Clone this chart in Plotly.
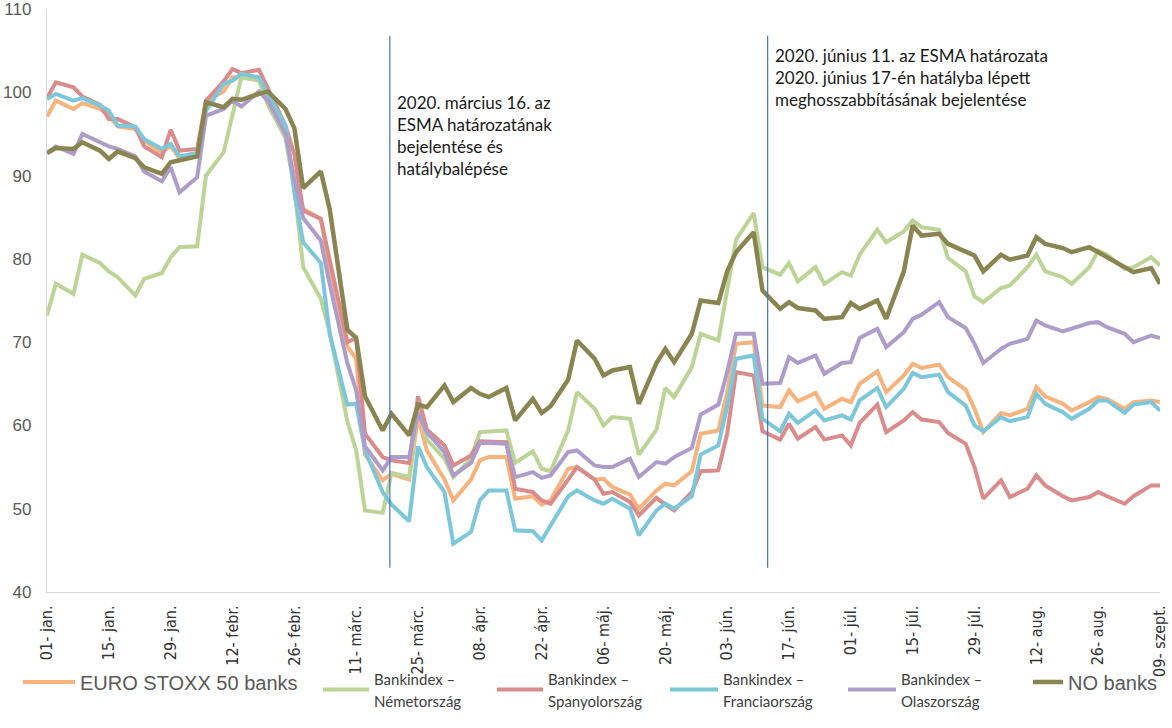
import pandas as pd
import plotly.graph_objects as go

# Trading days (every second business day), 2020-01-01 .. 2020-09-09
dates = pd.bdate_range("2020-01-01", "2020-09-09")[::2]

euro_stoxx = [97.1, 99.0, 98.0, 98.7, 98.0, 97.2, 95.9, 95.6, 94.2, 92.7,
              93.6, 92.0, 92.3, 99.0, 100.1, 101.8, 101.8, 101.4, 99.0, 95.0,
              89.5, 86.0, 84.8, 79.0, 69.5, 68.0, 56.5, 53.4, 54.2, 53.5,
              61.0, 57.0, 53.5, 51.0, 53.5, 55.8, 56.2, 56.2, 51.2, 51.5,
              50.5, 51.0, 54.8, 55.0, 53.5, 53.6, 52.6, 51.7, 50.0, 52.2,
              53.0, 52.8, 54.5, 59.0, 59.4, 64.0, 69.8, 70.0, 62.4, 62.2,
              64.2, 62.9, 63.9, 62.0, 63.2, 62.8, 65.0, 66.5, 64.0, 66.0,
              67.4, 66.9, 67.3, 65.8, 64.3, 62.0, 59.2, 61.5, 61.2, 62.0,
              64.6, 63.5, 62.6, 61.8, 62.8, 63.4, 63.2, 62.0, 62.8, 63.0,
              62.8]

germany = [73.2, 77.0, 75.8, 80.5, 79.5, 78.5, 77.8, 75.6, 77.6, 78.3,
           80.2, 81.4, 81.5, 90.0, 92.8, 97.5, 101.8, 101.5, 98.5, 94.5,
           88.5, 79.0, 75.2, 71.2, 60.5, 57.0, 49.8, 49.5, 54.3, 53.8,
           62.5, 58.3, 56.0, 53.8, 56.0, 59.2, 59.3, 59.4, 55.5, 56.9,
           54.8, 54.5, 59.4, 64.0, 62.0, 60.0, 61.0, 60.8, 56.5, 59.5,
           64.5, 63.4, 67.0, 71.0, 70.2, 76.0, 82.3, 85.5, 79.0, 78.1,
           79.5, 77.3, 79.0, 77.0, 78.4, 78.0, 80.5, 83.5, 82.0, 83.3,
           84.6, 83.8, 83.5, 80.1, 78.5, 75.5, 74.8, 76.5, 76.8, 79.0,
           80.5, 78.5, 77.8, 77.0, 79.0, 81.0, 80.5, 78.8, 79.0, 80.2,
           79.2]

spain = [99.3, 101.2, 100.6, 99.5, 98.5, 96.8, 96.8, 95.8, 93.5, 92.2,
         95.5, 93.0, 93.2, 99.0, 101.3, 102.8, 102.3, 102.7, 100.5, 96.0,
         92.5, 85.8, 84.8, 80.0, 70.0, 70.5, 59.0, 56.2, 55.8, 55.5,
         63.5, 59.5, 57.6, 55.2, 56.4, 58.1, 58.1, 58.0, 52.4, 52.0,
         51.0, 50.6, 53.5, 55.0, 53.5, 51.8, 52.0, 50.8, 49.2, 51.3,
         50.5, 49.8, 52.0, 54.5, 54.6, 59.0, 66.4, 66.0, 59.3, 58.3,
         60.2, 58.4, 59.8, 58.3, 58.8, 57.6, 60.3, 62.5, 59.2, 60.6,
         61.6, 60.7, 60.4, 59.1, 57.8, 55.0, 51.2, 53.4, 51.4, 52.4,
         54.0, 52.8, 51.5, 51.0, 51.4, 52.0, 51.5, 50.6, 51.5, 52.8,
         52.8]

france = [99.2, 99.8, 99.0, 99.3, 98.4, 97.8, 96.0, 95.9, 94.4, 93.2,
          93.8, 92.3, 92.7, 97.8, 101.0, 101.4, 102.2, 101.8, 99.8, 96.0,
          88.0, 82.0, 79.5, 71.0, 62.5, 62.6, 57.0, 52.0, 50.5, 48.5,
          57.5, 55.0, 52.0, 45.8, 47.2, 51.0, 52.2, 52.2, 47.4, 47.3,
          46.2, 48.0, 51.5, 52.2, 51.0, 50.6, 51.2, 50.0, 46.8, 49.8,
          50.6, 50.0, 51.5, 56.5, 57.6, 62.3, 68.0, 68.4, 60.8, 59.3,
          61.4, 60.3, 61.8, 60.6, 61.2, 60.7, 63.0, 64.5, 62.2, 64.4,
          66.3, 65.8, 66.1, 64.0, 62.4, 60.0, 59.3, 61.0, 60.5, 61.0,
          63.8, 62.6, 61.6, 60.8, 62.0, 63.0, 63.0, 61.5, 62.5, 62.8,
          61.8]

italy = [92.7, 93.5, 92.6, 95.0, 94.0, 93.5, 93.2, 92.3, 90.5, 89.3,
         91.0, 88.0, 89.8, 97.2, 98.0, 99.0, 98.3, 100.1, 99.0, 95.0,
         89.5, 84.9, 82.2, 77.0, 67.5, 64.2, 57.5, 54.6, 56.2, 56.2,
         61.5, 59.2, 56.8, 54.0, 55.5, 57.9, 57.9, 57.8, 53.8, 54.4,
         53.7, 54.0, 56.8, 57.0, 55.2, 55.0, 55.0, 56.0, 53.8, 55.6,
         55.4, 56.2, 57.3, 61.3, 62.5, 66.4, 71.0, 71.0, 65.0, 65.1,
         68.2, 67.5, 68.4, 66.2, 67.5, 67.6, 70.5, 71.6, 69.4, 71.2,
         72.8, 73.3, 74.8, 73.0, 71.7, 69.8, 67.5, 69.2, 69.8, 70.4,
         72.6, 72.0, 71.3, 71.6, 72.3, 72.4, 71.8, 71.0, 70.0, 70.8,
         70.5]

no_banks = [92.7, 93.3, 93.2, 94.0, 93.0, 92.0, 92.9, 92.1, 91.0, 90.2,
            91.6, 91.8, 92.3, 98.8, 98.2, 99.2, 99.1, 99.8, 100.1, 98.0,
            95.7, 88.5, 90.5, 86.0, 71.5, 70.5, 63.5, 59.4, 61.4, 58.8,
            62.5, 62.2, 64.8, 62.8, 64.5, 63.8, 63.4, 64.5, 60.6, 63.2,
            61.5, 62.3, 65.5, 70.2, 68.0, 66.0, 66.6, 67.0, 62.6, 67.5,
            69.2, 67.6, 71.0, 75.0, 74.7, 78.5, 80.8, 83.2, 76.2, 74.0,
            74.8, 74.1, 73.8, 72.8, 73.0, 74.7, 74.0, 75.0, 72.8, 78.5,
            84.0, 82.8, 83.0, 81.8, 80.9, 80.4, 78.5, 80.5, 79.9, 80.4,
            82.6, 81.8, 81.3, 80.8, 81.4, 80.8, 80.3, 79.0, 78.4, 78.9,
            77.0]

tick_dates = pd.date_range("2020-01-01", "2020-09-09", freq="14D")
tick_labels = ["01- jan.", "15- jan.", "29- jan.", "12- febr.", "26- febr.",
               "11- márc.", "25- márc.", "08- ápr.", "22- ápr.", "06- máj.",
               "20- máj.", "03- jún.", "17- jún.", "01- júl.", "15- júl.",
               "29- júl.", "12- aug.", "26- aug.", "09- szept."]

y_ticks = [40, 50, 60, 70, 80, 90, 100, 110]

event_dates = ["2020-03-18 15:00", "2020-06-12 04:00"]
event_texts = [
    "2020. március 16. az<br>ESMA határozatának<br>bejelentése és<br>hatálybalépése",
    "2020. június 11. az ESMA határozata<br>2020. június 17-én hatályba lépett<br>meghosszabbításának bejelentése",
]
event_text_top = [100.3, 105.9]

SMALL = "font-family:Lato, sans-serif;font-size:15px;color:#404040"


def two_line(a, b):
    return f'<span style="{SMALL}">{a}</span><br><span style="{SMALL}">{b}</span>'


series = [
    ("EURO STOXX 50 banks", euro_stoxx, "#F8B37D", 4),
    (two_line("Bankindex –", "Németország"), germany, "#BCD596", 4),
    (two_line("Bankindex –", "Spanyolország"), spain, "#D98C8B", 4),
    (two_line("Bankindex –", "Franciaország"), france, "#7DC7DA", 4),
    (two_line("Bankindex –", "Olaszország"), italy, "#AE9DCB", 4),
    ("NO banks", no_banks, "#8A8550", 4.5),
]

legend_ids = ["legend", "legend2", "legend3", "legend4", "legend5", "legend6"]
# one legend per series: box left edge (px), symbol width, two-line flag
legend_left_px = [18, 318, 492, 665, 843, 1028]
legend_item_w = [52, 46, 46, 48, 48, 30]
legend_two_line = [False, True, True, True, True, False]

fig = go.Figure()
for (name, vals, color, width), lid in zip(series, legend_ids):
    fig.add_trace(go.Scatter(x=dates, y=vals, mode="lines", name=name, legend=lid,
                             line=dict(color=color, width=width)))

for d in event_dates:
    fig.add_shape(type="line", xref="x", yref="y", x0=d, x1=d, y0=42.9, y1=106.8,
                  line=dict(color="#4472C4", width=1.2))

for d, t, top in zip(event_dates, event_texts, event_text_top):
    fig.add_annotation(x=d, y=top, xref="x", yref="y", text=t, showarrow=False,
                       xanchor="left", yanchor="top", xshift=5, align="left",
                       font=dict(family="Lato, sans-serif", size=17, color="#1a1a1a"))

M_L, M_R, M_T, M_B = 47, 12, 9, 136
W, H = 1172, 728
PLOT_W, PLOT_H = W - M_L - M_R, H - M_T - M_B
PLOT_B = H - M_B

legend_layouts = {}
for lid, lx, iw, two in zip(legend_ids, legend_left_px, legend_item_w, legend_two_line):
    center_px = 690 if two else 682
    if two:
        lfont = dict(family="Lato, sans-serif", size=17, color="#404040")
    else:
        lfont = dict(family="Liberation Sans, Arial, sans-serif", size=20, color="#595959")
    legend_layouts[lid] = dict(
        orientation="h", x=(lx - M_L) / PLOT_W, y=-(center_px - PLOT_B) / PLOT_H,
        xanchor="left", yanchor="middle", valign="middle", itemwidth=iw,
        font=lfont, bgcolor="rgba(0,0,0,0)")

fig.update_layout(
    width=W, height=H,
    margin=dict(l=M_L, r=M_R, t=M_T, b=M_B, autoexpand=False),
    paper_bgcolor="white", plot_bgcolor="white",
    showlegend=True,
    xaxis=dict(type="date", range=["2020-01-01", "2020-09-09"],
               tickmode="array", tickvals=tick_dates, ticktext=tick_labels,
               tickangle=-90, showgrid=False, zeroline=False, automargin=False,
               showline=True, linecolor="#d9d9d9", linewidth=1.3, ticks="",
               ticklabelstandoff=6, ticklabeloverflow="allow",
               tickfont=dict(family="Liberation Sans Narrow, Arial Narrow, DejaVu Sans Condensed, sans-serif",
                             size=16, color="#333333")),
    yaxis=dict(range=[40, 110], tickmode="array", tickvals=y_ticks,
               showgrid=False, zeroline=False, showline=True, automargin=False,
               linecolor="#d9d9d9", linewidth=1.3, ticks="",
               ticklabelstandoff=11, ticklabeloverflow="allow",
               tickfont=dict(family="Liberation Sans, Arial, sans-serif", size=17, color="#595959")),
    **legend_layouts,
)

fig.write_html("out.html", config={"displayModeBar": False},
               post_script="document.body.style.margin='0px';")
